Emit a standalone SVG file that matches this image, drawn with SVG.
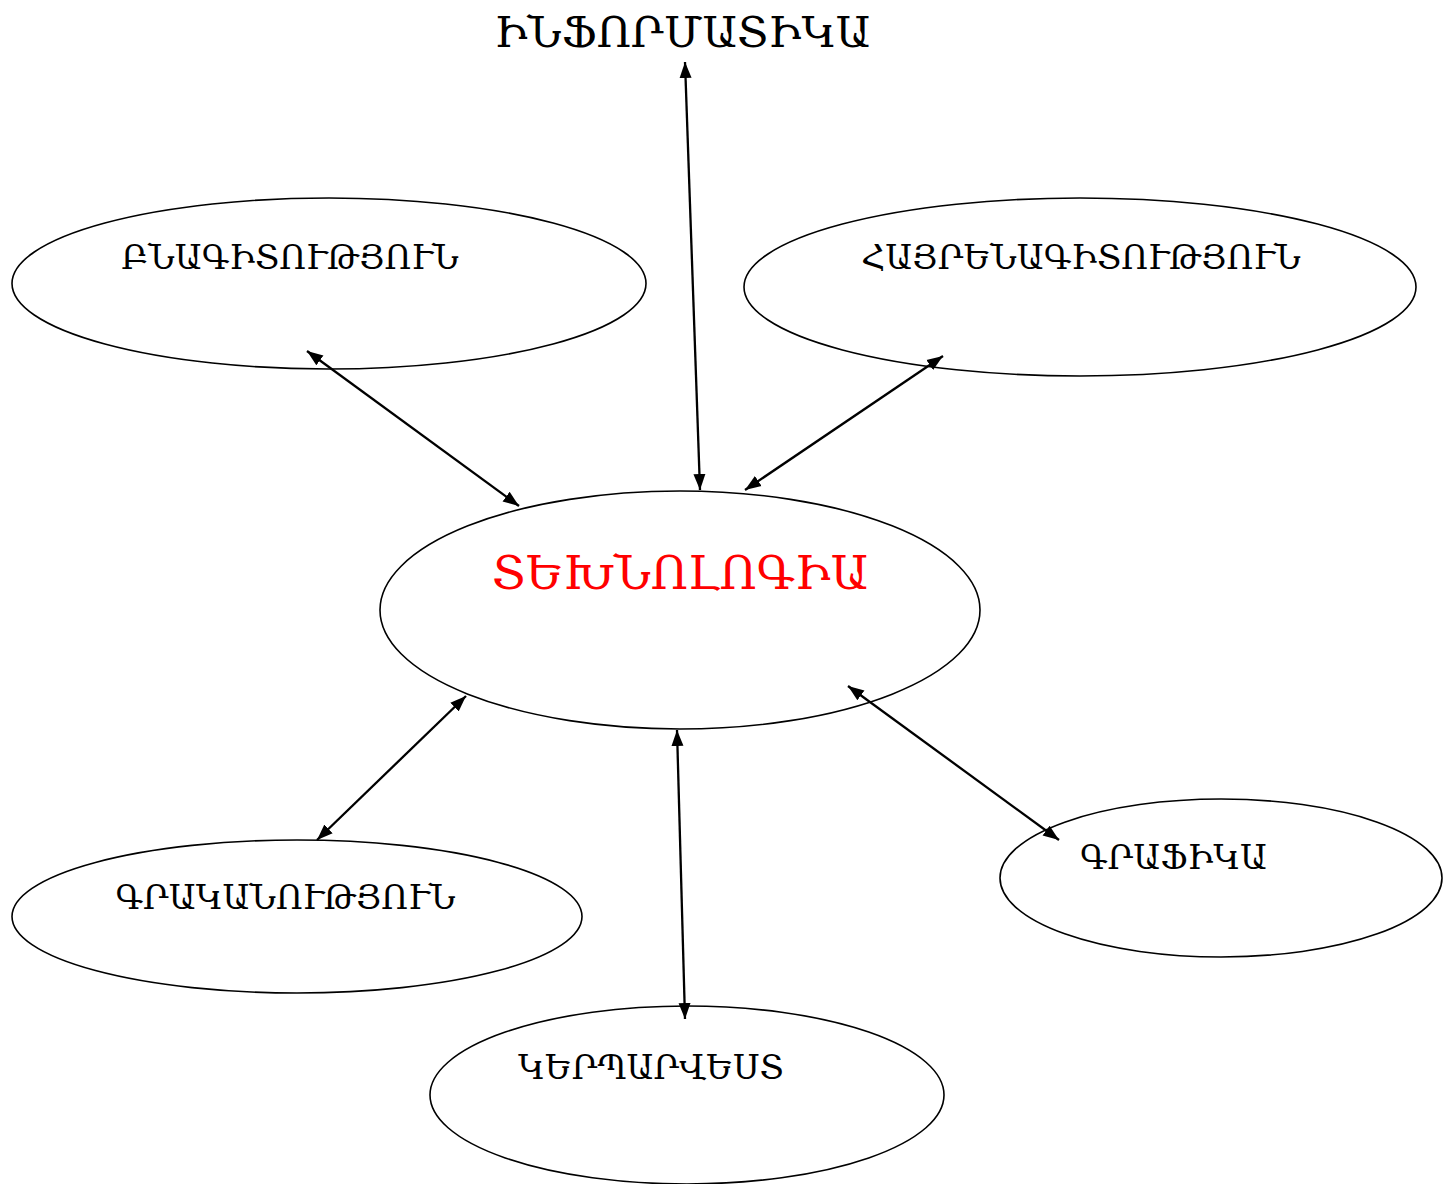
<svg xmlns="http://www.w3.org/2000/svg" width="1450" height="1184" viewBox="0 0 1450 1184">
<style>
.n{fill:#fff;stroke:#000;stroke-width:1.6}
.t{font-family:"DejaVu Serif","Noto Serif",serif;font-size:33.3px;fill:#000;text-anchor:middle}
.e{stroke:#000;stroke-width:2.3;fill:none;marker-start:url(#a);marker-end:url(#a)}
</style>
<defs>
<marker id="a" viewBox="0 0 16 13" refX="16" refY="6.5" markerWidth="16" markerHeight="13" markerUnits="userSpaceOnUse" orient="auto-start-reverse">
<path d="M0,0.5L16,6.5L0,12.5z" fill="#000"/>
</marker>
</defs>
<rect width="1450" height="1184" fill="#fff"/>
<g id="n-bnagit"><ellipse class="n" cx="329" cy="283.5" rx="317" ry="85.5"/><text class="t" x="290" y="269">ԲՆԱԳԻՏՈՒԹՅՈՒՆ</text></g>
<g id="n-hayren"><ellipse class="n" cx="1080" cy="287" rx="336" ry="89"/><text class="t" x="1081" y="269">ՀԱՅՐԵՆԱԳԻՏՈՒԹՅՈՒՆ</text></g>
<g id="n-tekhn"><ellipse class="n" cx="680" cy="610" rx="300" ry="119"/><text class="t" x="680" y="589" style="font-size:46.4px;fill:#f00">ՏԵԽՆՈԼՈԳԻԱ</text></g>
<g id="n-grakan"><ellipse class="n" cx="297" cy="916.5" rx="285" ry="76.5"/><text class="t" x="285.5" y="909">ԳՐԱԿԱՆՈՒԹՅՈՒՆ</text></g>
<g id="n-kerp"><ellipse class="n" cx="687" cy="1095" rx="257" ry="89"/><text class="t" x="651" y="1079">ԿԵՐՊԱՐՎԵՍՏ</text></g>
<g id="n-graf"><ellipse class="n" cx="1221" cy="878" rx="221" ry="79"/><text class="t" x="1173.5" y="869">ԳՐԱՖԻԿԱ</text></g>
<g id="n-inf"><text class="t" x="682.5" y="47" style="font-size:42.8px">ԻՆՖՈՐՄԱՏԻԿԱ</text></g>
<g id="edges">
<line class="e" x1="685" y1="62" x2="700" y2="490"/>
<line class="e" x1="307" y1="351" x2="519" y2="506"/>
<line class="e" x1="943" y1="356" x2="745" y2="490"/>
<line class="e" x1="466" y1="696" x2="317" y2="840"/>
<line class="e" x1="677" y1="730" x2="685" y2="1019"/>
<line class="e" x1="848" y1="686" x2="1059" y2="840"/>
</g>
</svg>
